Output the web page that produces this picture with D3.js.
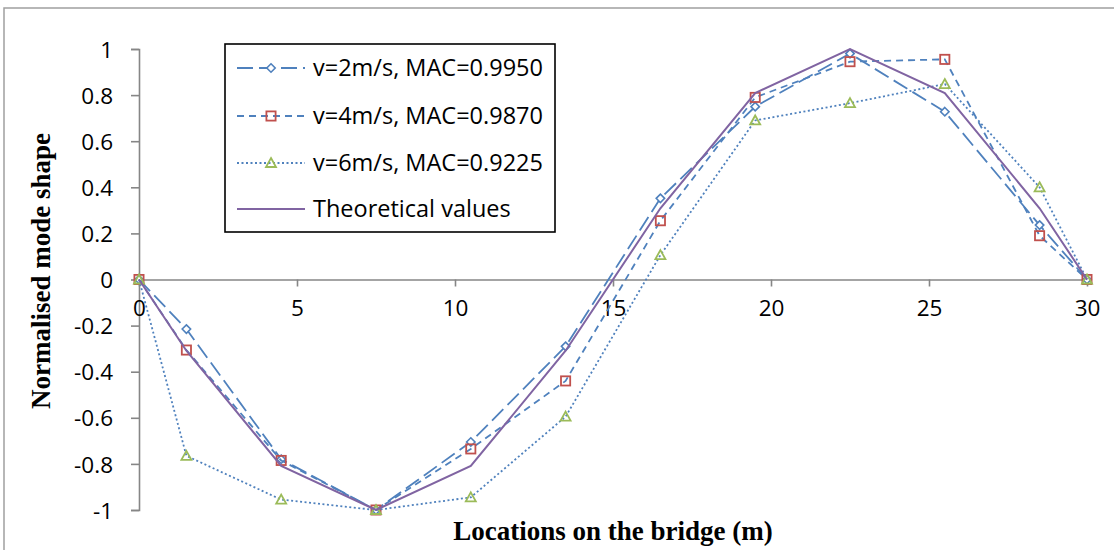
<!DOCTYPE html>
<html>
<head>
<meta charset="utf-8">
<script src="https://cdn.jsdelivr.net/npm/d3@7/dist/d3.min.js"></script>
<style>
  html, body { margin: 0; padding: 0; background: #fff; }
  svg { display: block; }
</style>
</head>
<body>
<svg id="chart" width="1114" height="550"></svg>
<script>
// ---- Data ----
const locations = [0, 1.5, 4.5, 7.5, 10.5, 13.5, 16.5, 19.5, 22.5, 25.5, 28.5, 30];
const v2 = [0, -0.215, -0.78, -1, -0.705, -0.29, 0.352, 0.75, 0.98, 0.728, 0.236, 0];
const v4 = [0, -0.306, -0.785, -1, -0.735, -0.44, 0.255, 0.79, 0.945, 0.955, 0.19, 0];
const v6 = [0, -0.765, -0.955, -1, -0.945, -0.595, 0.106, 0.69, 0.765, 0.848, 0.40, 0];
const theory = [0, -0.309, -0.809, -1, -0.809, -0.309, 0.309, 0.809, 1, 0.809, 0.309, 0];
const seriesNames = ["v=2m/s, MAC=0.9950", "v=4m/s, MAC=0.9870", "v=6m/s, MAC=0.9225", "Theoretical values"];
const xTicks = [0, 5, 10, 15, 20, 25, 30];
const yTicks = [-1, -0.8, -0.6, -0.4, -0.2, 0, 0.2, 0.4, 0.6, 0.8, 1];
const yTickLabels = ["-1", "-0.8", "-0.6", "-0.4", "-0.2", "0", "0.2", "0.4", "0.6", "0.8", "1"];
const xTitle = "Locations on the bridge (m)";
const yTitle = "Normalised mode shape";

// ---- Styles ----
const series = [
  { name: seriesNames[0], values: v2, line: "#4F81BD", dash: "16,6", marker: "diamond", mcolor: "#4F81BD" },
  { name: seriesNames[1], values: v4, line: "#4F81BD", dash: "7,5", marker: "square", mcolor: "#C0504D" },
  { name: seriesNames[2], values: v6, line: "#4F81BD", dash: "2,2.5", marker: "triangle", mcolor: "#9BBB59" },
  { name: seriesNames[3], values: theory, line: "#8064A2", dash: null, marker: null, mcolor: null }
];

const svg = d3.select("#chart");
const W = 1114, H = 550;

// chart border (only top and left visible)
svg.append("rect").attr("x", 4).attr("y", 8).attr("width", W + 10).attr("height", H + 10)
  .attr("fill", "#fff").attr("stroke", "#a0a0a0").attr("stroke-width", 1.5);

const x = d3.scaleLinear().domain([0, 30]).range([139, 1087]);
const y = d3.scaleLinear().domain([-1, 1]).range([510, 49]);

const axisColor = "#868686";
const tickFont = "'Open Sans', 'Liberation Sans', sans-serif";

// Y axis
const yAxis = svg.append("g").attr("transform", `translate(${x(0)},0)`)
  .call(d3.axisLeft(y).tickValues(yTicks).tickSize(8).tickPadding(18)
    .tickFormat((d, i) => yTickLabels[i]));
yAxis.select(".domain").attr("stroke", axisColor).attr("stroke-width", 1.6);
yAxis.selectAll(".tick line").attr("stroke", axisColor).attr("stroke-width", 1.6);
yAxis.selectAll(".tick text").attr("font-family", tickFont).attr("font-size", 22.5)
  .attr("fill", "#000").attr("dy", "0.36em");

// X axis at y = 0
const xAxis = svg.append("g").attr("transform", `translate(0,${y(0)})`)
  .call(d3.axisBottom(x).tickValues(xTicks).tickSize(7).tickPadding(14).tickSizeOuter(0)
    .tickFormat(d3.format("d")));
xAxis.select(".domain").attr("stroke", axisColor).attr("stroke-width", 1.6);
xAxis.selectAll(".tick line").attr("stroke", axisColor).attr("stroke-width", 1.6);
xAxis.selectAll(".tick text").attr("font-family", tickFont).attr("font-size", 22.5)
  .attr("fill", "#000");

// Lines
const lineGen = d3.line().x((d, i) => x(locations[i])).y(d => y(d));

function drawMarker(g, type, cx, cy, color) {
  if (type === "diamond") {
    const s = 4.2;
    g.append("path").attr("d", `M${cx},${cy - s}L${cx + s},${cy}L${cx},${cy + s}L${cx - s},${cy}Z`)
      .attr("fill", "#fff").attr("stroke", color).attr("stroke-width", 1.6);
  } else if (type === "square") {
    const s = 4.6;
    g.append("rect").attr("x", cx - s).attr("y", cy - s).attr("width", 2 * s).attr("height", 2 * s)
      .attr("fill", "none").attr("stroke", color).attr("stroke-width", 1.8);
  } else if (type === "triangle") {
    const s = 5;
    g.append("path").attr("d", `M${cx},${cy - s}L${cx + s},${cy + s * 0.8}L${cx - s},${cy + s * 0.8}Z`)
      .attr("fill", "none").attr("stroke", color).attr("stroke-width", 1.8);
  }
}

series.forEach(s => {
  const g = svg.append("g");
  g.append("path").datum(s.values).attr("d", lineGen)
    .attr("fill", "none").attr("stroke", s.line)
    .attr("stroke-width", s.marker ? 1.8 : 2)
    .attr("stroke-dasharray", s.dash);
  if (s.marker) {
    s.values.forEach((v, i) => drawMarker(g, s.marker, x(locations[i]), y(v), s.mcolor));
  }
});

// Legend
const leg = svg.append("g");
leg.append("rect").attr("x", 225).attr("y", 44).attr("width", 330).attr("height", 188)
  .attr("fill", "#fff").attr("stroke", "#000").attr("stroke-width", 1.6);
const rowY = [68, 116, 163, 209];
series.forEach((s, i) => {
  const ry = rowY[i];
  leg.append("line").attr("x1", 237).attr("x2", 305).attr("y1", ry).attr("y2", ry)
    .attr("stroke", s.line).attr("stroke-width", s.marker ? 1.8 : 2)
    .attr("stroke-dasharray", s.dash);
  if (s.marker) drawMarker(leg, s.marker, 271, ry, s.mcolor);
  leg.append("text").attr("x", 313).attr("y", ry).attr("dy", "0.36em")
    .attr("font-family", tickFont).attr("font-size", 23.5).attr("fill", "#000")
    .text(s.name);
});

// Axis titles
svg.append("text").attr("x", 613).attr("y", 540).attr("text-anchor", "middle")
  .attr("font-family", "'Liberation Serif', 'Times New Roman', serif").attr("font-weight", "bold")
  .attr("font-size", 27).attr("fill", "#000").text(xTitle);
svg.append("text").attr("transform", "translate(50,271) rotate(-90)").attr("text-anchor", "middle")
  .attr("font-family", "'Liberation Serif', 'Times New Roman', serif").attr("font-weight", "bold")
  .attr("font-size", 27).attr("fill", "#000").text(yTitle);
</script>
</body>
</html>
